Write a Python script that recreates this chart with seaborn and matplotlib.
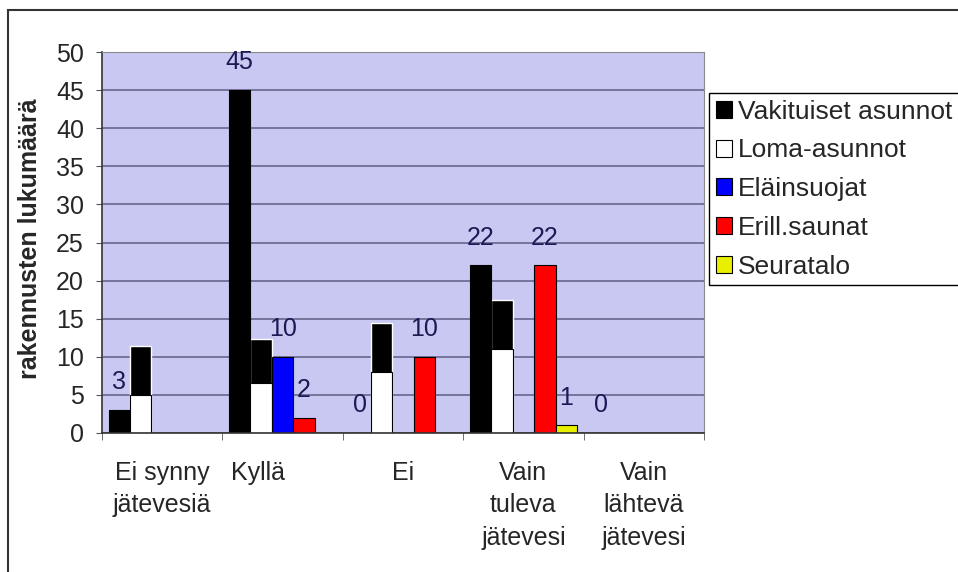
"""
Rakennusten jätevesitilanne: pylväskaavio rakennustyypeittäin.

    python plot.py
"""

import matplotlib
matplotlib.use("Agg")

import matplotlib.pyplot as plt
import matplotlib.transforms as mtransforms
from matplotlib.patches import Rectangle
import pandas as pd
import seaborn as sns

kategoriat = ["Ei synny\njätevesiä", "Kyllä", "Ei",
              "Vain\ntuleva\njätevesi", "Vain\nlähtevä\njätevesi"]
sarjat = ["Vakituiset asunnot", "Loma-asunnot", "Eläinsuojat",
          "Erill.saunat", "Seuratalo"]

vakituiset = [3, 45, 0, 22, 0]
loma_asunnot = [5, 6.5, 8, 11, 0]
elainsuojat = [0, 10, 0, 0, 0]
erill_saunat = [0, 2, 10, 22, 0]
seuratalo = [0, 0, 0, 1, 0]
# musta yläosa loma-asuntopylväiden päällä (näkyy alkuperäisessä kuvassa)
loma_musta_yla = [11.4, 12.4, 14.4, 17.5, 0]

varit = ["#000000", "#ffffff", "#0000ff", "#ff0000", "#e8f000"]

arvot = [vakituiset, loma_asunnot, elainsuojat, erill_saunat, seuratalo]
df = pd.DataFrame([
    {"kategoria": k, "sarja": s, "arvo": v}
    for s, rivi in zip(sarjat, arvot)
    for k, v in zip(kategoriat, rivi)
])

sns.set_style("white")
plt.rcParams["font.family"] = ["Liberation Sans", "DejaVu Sans"]

fig = plt.figure(figsize=(9.58, 5.72), dpi=100)
ax = fig.add_axes([102 / 958, 1 - 433 / 572, 602 / 958, 381 / 572])
ax.set_facecolor("#c8c8f2")

LEVEYS = 0.89
PALKKI = LEVEYS / len(sarjat)

sns.barplot(data=df, x="kategoria", y="arvo", hue="sarja",
            order=kategoriat, hue_order=sarjat,
            palette=dict(zip(sarjat, varit)), saturation=1,
            width=LEVEYS, edgecolor="black", linewidth=0.8, ax=ax)
for p in ax.patches:
    p.set_zorder(2)

# mustat yläosat loma-asuntopylväiden taakse
x_loma = [i - LEVEYS / 2 + PALKKI * 1.5 for i in range(len(kategoriat))]
ax.bar(x_loma, loma_musta_yla, width=PALKKI, color="black", zorder=1.5)

# arvotunnisteet
for k, rivi in enumerate(arvot):
    if k == 1:
        continue
    for i, v in enumerate(rivi):
        if k == 0 or v > 0:
            x = i - LEVEYS / 2 + PALKKI * (k + 0.5)
            ax.annotate(f"{v:g}", (x, v), xytext=(0, 20),
                        textcoords="offset points", ha="center", va="center",
                        fontsize=18, color="#1a1a55", zorder=4)

ax.set_xlim(-0.5, 4.5)
ax.set_ylim(0, 50)
ax.set_yticks(range(0, 51, 5))
ax.yaxis.grid(True, color="#66668e", linewidth=1.2)
ax.set_axisbelow(True)

ax.set_xlabel("")
ax.set_ylabel("rakennusten lukumäärä", fontsize=18, fontweight="bold")
ax.yaxis.set_label_coords(-0.099, 0.51)

ax.set_xticks(range(len(kategoriat)))
ax.set_xticklabels(kategoriat, fontsize=18, linespacing=1.45)
ax.set_xticks([i - 0.5 for i in range(len(kategoriat) + 1)], minor=True)
ax.tick_params(axis="x", which="major", length=0, pad=20)
ax.tick_params(axis="x", which="minor", length=5, color="#555555",
               direction="out", bottom=True)
ax.tick_params(axis="y", length=4, pad=9, labelsize=18, left=True,
               color="#555555", direction="out")

for s in ("top", "right"):
    ax.spines[s].set_color("#8a8a8a")
for s in ("left", "bottom"):
    ax.spines[s].set_color("#333333")
    ax.spines[s].set_linewidth(1.2)

kahvat, nimet = ax.get_legend_handles_labels()
ax.legend(kahvat[:len(sarjat)], nimet[:len(sarjat)],
          loc="upper left", bbox_to_anchor=(709 / 958, 1 - 93 / 572),
          bbox_transform=fig.transFigure, borderaxespad=0,
          fontsize=19, frameon=True, fancybox=False, framealpha=1,
          edgecolor="black", handlelength=0.62, handleheight=0.62,
          handletextpad=0.22, labelspacing=0.56, borderpad=0.25)

# Kyllä-otsikko on alkuperäisessä hieman vasemmalla
kylla = ax.get_xticklabels()[1]
kylla.set_transform(kylla.get_transform() +
                    mtransforms.ScaledTranslation(-0.25, 0, fig.dpi_scale_trans))

# kuvan kehys
fig.add_artist(Rectangle((8 / 958, -0.1), 1.2, 1.1 - 10 / 572,
                         transform=fig.transFigure, fill=False,
                         edgecolor="#333333", linewidth=1.5))

fig.savefig("out.png", dpi=100)
plt.close(fig)
